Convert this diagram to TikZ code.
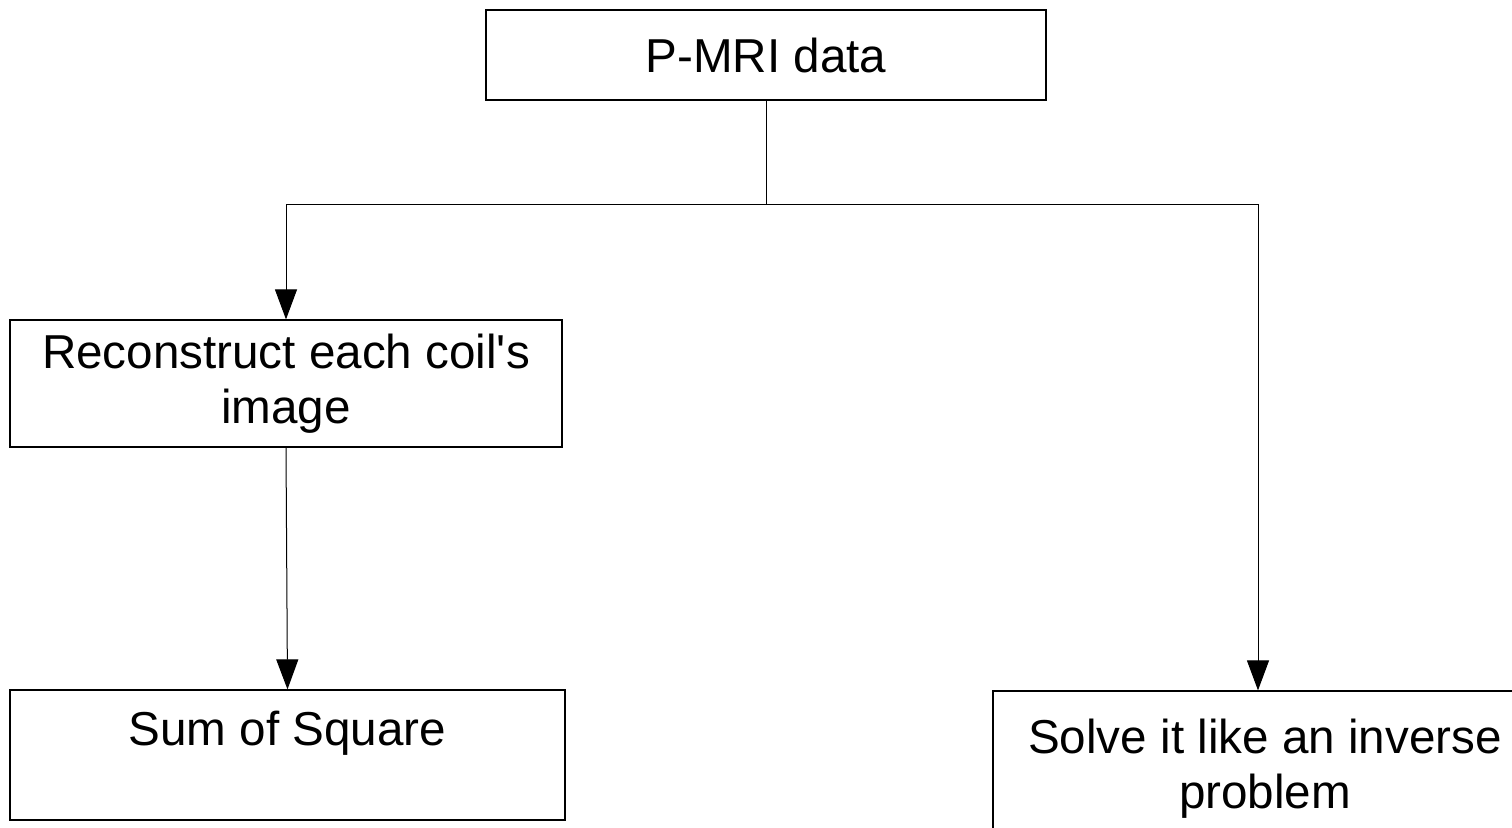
\documentclass[tikz,border=0pt]{standalone}
\usepackage{fontspec}
\setmainfont{Liberation Sans}
\usetikzlibrary{arrows.meta}
\begin{document}
\begin{tikzpicture}[x=0.5pt,y=-0.5pt,
  box/.style={draw, line width=0.6pt, rectangle, inner sep=0pt, align=center,
              font=\fontsize{23.8}{27.5}\selectfont},
  link/.style={line width=0.5pt},
  arr/.style={link, -{Triangle[length=15pt,width=11pt]}}]
\useasboundingbox (0,0) rectangle (1512,828);
\clip (0,0) rectangle (1512,828);

% boxes
\node[box, minimum width=280pt, minimum height=45pt] (data) at (766,55) {P-MRI data};
\node[box, minimum width=276pt, minimum height=63.5pt] (coil) at (286,383.5)
  {Reconstruct each coil\textquotesingle s\\image};
\node[box, minimum width=277.5pt, minimum height=65pt, text height=28pt, text depth=37pt]
  (sos) at (287.5,755) {Sum of Square};
\node[box, minimum width=272pt, minimum height=78pt] (inv) at (1265,769)
  {Solve it like an inverse\\problem};

% connectors
\coordinate (split) at (766,205);
\draw[link] (data.south) -- (split);
\draw[arr] (split) -| (coil.north);
\draw[arr] (split) -| ([xshift=-3.5pt]inv.north);
\draw[arr] (coil.south) -- (sos.north);
\end{tikzpicture}
\end{document}
